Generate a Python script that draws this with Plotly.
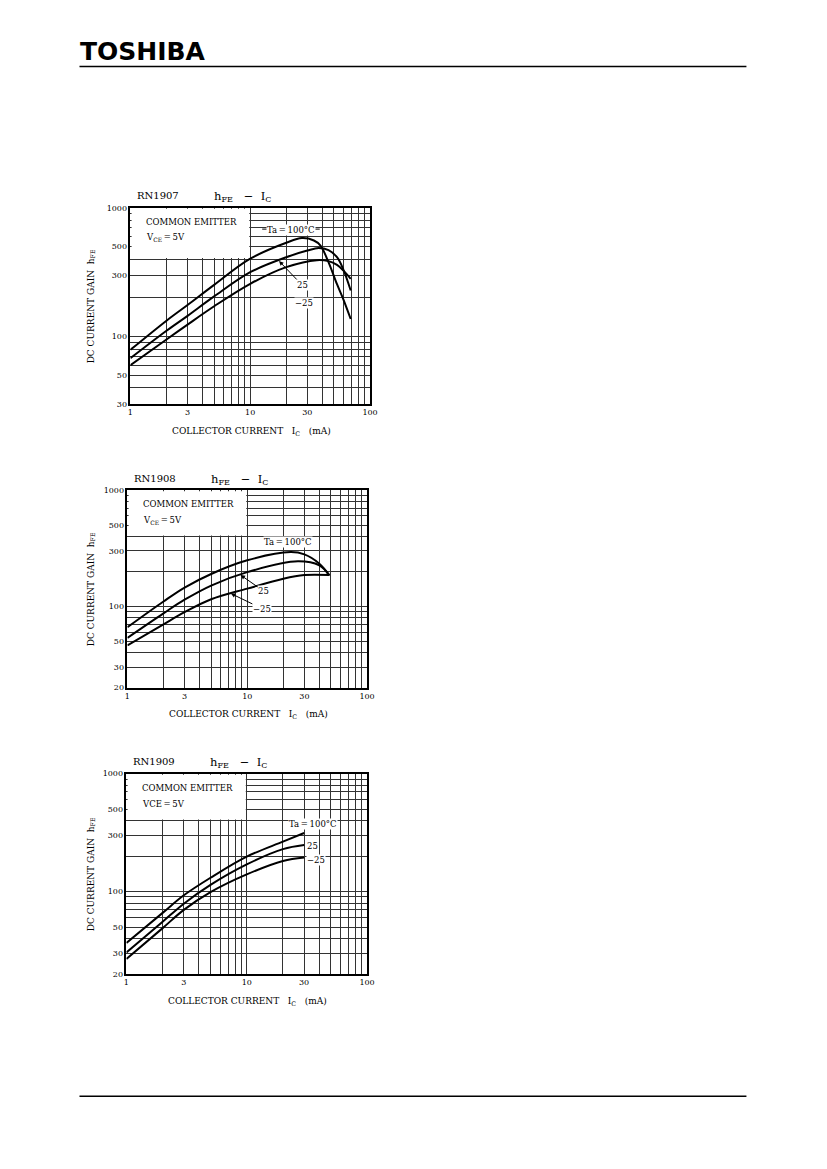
import numpy as np
import plotly.graph_objects as go

# page is 827x1169; the html body adds an 8px margin, so the figure is drawn
# 8px in and is made smaller so that it does not overflow the window.
# The photographed page also comes out slightly shrunk, so positions are
# pre-stretched by that measured amount.
PAGE_OFF = 8
FW, FH = 811, 1153
SX, BX = 0.988, 3.5
SY, BY = 0.9905, 4.7

# RN1907  hFE - IC  (IC in mA)
ic1_100 = [1, 2, 3, 5, 10, 20, 27, 34, 38.6, 45, 53, 60, 69]
hfe1_100 = [79, 133, 176, 252, 402, 535, 581, 557, 509, 378, 255, 194, 137]
ic1_25 = [1, 2, 3, 5, 10, 20, 30, 37.3, 45, 53, 60, 69]
hfe1_25 = [68, 111, 145, 205, 316, 413, 465, 486, 468, 413, 330, 228]
ic1_m25 = [1, 2, 3, 5, 10, 20, 36, 45, 53, 60, 69]
hfe1_m25 = [60, 95, 124, 172, 257, 346, 392, 385, 360, 325, 281]

# RN1908
ic2_100 = [1, 2, 3, 5, 10, 23, 30, 40, 48.5]
hfe2_100 = [66, 110, 145, 190, 249, 293, 280, 233, 185]
ic2_25 = [1, 2, 3, 5, 10, 26.5, 40, 48.5]
hfe2_25 = [53.5, 87, 114, 151, 197, 244, 225, 185]
ic2_m25 = [1, 2, 3, 5, 10, 20, 30, 48.5]
hfe2_m25 = [46, 70, 89, 115, 142, 173, 186, 186]

# RN1909
ic3 = [1, 2, 3, 5, 10, 20, 30]
hfe3_100 = [36.7, 66, 93, 131, 198, 265, 314]
hfe3_25 = [30.5, 55.5, 79, 114, 170, 229, 248]
hfe3_m25 = [26.8, 49, 70, 99, 140, 182, 195]

x_grid = [1, 2, 3, 4, 5, 6, 7, 8, 9, 10, 20, 30, 40, 50, 60, 70, 80, 90, 100]
x_labels = ["1", "", "3", "", "", "", "", "", "", "10", "", "30", "", "", "", "", "", "", "100"]
y_grid = [20, 30, 40, 50, 60, 70, 80, 90, 100, 200, 300, 400, 500, 600, 700, 800, 900, 1000]
y_shown = {20: "20", 30: "30", 50: "50", 100: "100", 300: "300", 500: "500", 1000: "1000"}

panels = [
    dict(name="RN1907", px=(131, 371), py=(208, 404), ymin=30,
         curves=[(ic1_100, hfe1_100), (ic1_25, hfe1_25), (ic1_m25, hfe1_m25)],
         vce="V<sub>CE</sub>\u2009=\u20095V"),
    dict(name="RN1908", px=(128, 368), py=(490, 687), ymin=20,
         curves=[(ic2_100, hfe2_100), (ic2_25, hfe2_25), (ic2_m25, hfe2_m25)],
         vce="V<sub>CE</sub>\u2009=\u20095V"),
    dict(name="RN1909", px=(127, 368), py=(773, 973), ymin=20,
         curves=[(ic3, hfe3_100), (ic3, hfe3_25), (ic3, hfe3_m25)],
         vce="VCE\u2009=\u20095V"),
]

SERIF = "DejaVu Serif"
fig = go.Figure()
annotations = []
shapes = []


def px2x(p):
    return ((p - BX) / SX - PAGE_OFF) / FW


def py2y(p):
    return 1 - ((p - BY) / SY - PAGE_OFF) / FH


def note(text, x, y, size=9, xanchor="center", **kw):
    return dict(text=text, x=px2x(x), y=py2y(y), xref="paper", yref="paper",
                xanchor=xanchor, yanchor="middle", showarrow=False,
                font=dict(family=SERIF, size=size, color="black"), **kw)


for i, p in enumerate(panels):
    n = "" if i == 0 else str(i + 1)
    xa, ya = "x" + n, "y" + n
    yv = [v for v in y_grid if v >= p["ymin"]]
    yt = [y_shown.get(v, "") for v in yv]
    axis_common = dict(
        type="log", showgrid=True, gridcolor="#333333", gridwidth=1,
        showline=True, linecolor="black", linewidth=1.6, mirror=True,
        ticks="", zeroline=False,
        tickfont=dict(family=SERIF, size=8, color="black"),
    )
    fig.update_layout(**{
        ("xaxis" + n): dict(axis_common, domain=[px2x(p["px"][0]), px2x(p["px"][1])],
                            range=[0, 2], tickvals=x_grid, ticktext=x_labels,
                            anchor=ya),
        ("yaxis" + n): dict(axis_common, domain=[py2y(p["py"][1]), py2y(p["py"][0])],
                            range=[np.log10(p["ymin"]), 3], tickvals=yv, ticktext=yt,
                            anchor=xa),
    })
    for cx, cy in p["curves"]:
        fig.add_trace(go.Scatter(x=cx, y=cy, xaxis=xa, yaxis=ya, mode="lines",
                                 line=dict(color="black", width=2, shape="spline",
                                           smoothing=1.0),
                                 showlegend=False, hoverinfo="skip"))

    # white condition box over the grid in the upper-left corner (1..10 mA, 400..1000)
    frac = (np.log10(400) - np.log10(p["ymin"])) / (3 - np.log10(p["ymin"]))
    shapes.append(dict(type="rect", xref=xa + " domain", yref=ya + " domain",
                       x0=0.005, x1=0.496, y0=frac + 0.005, y1=0.995,
                       fillcolor="white", line=dict(width=0), layer="above"))

    cx_mid = (p["px"][0] + p["px"][1]) / 2
    cy_mid = (p["py"][0] + p["py"][1]) / 2
    annotations += [
        note(p["name"], p["px"][0] + 5, p["py"][0] - 12, size=10, xanchor="left"),
        note("h<sub>FE</sub>   −  I<sub>C</sub>", p["px"][0] + 82, p["py"][0] - 11,
             size=11.5, xanchor="left"),
        note("COMMON EMITTER", p["px"][0] + 14, p["py"][0] + 14, size=8.5, xanchor="left"),
        note(p["vce"], p["px"][0] + 14, p["py"][0] + 30, size=8.5, xanchor="left"),
        note("DC CURRENT GAIN  h<sub>FE</sub>", 92, cy_mid, size=9, textangle=-90),
        note("COLLECTOR CURRENT   I<sub>C</sub>   (mA)", cx_mid + 1, p["py"][1] + 27,
             size=9),
    ]

lab = dict(family=SERIF, size=8.5, color="black")
TA = "Ta\u2009=\u2009100°C"


def label(text, ic, hfe, ax, ay, xa="x", ya="y", **kw):
    d = dict(text=text, x=np.log10(ic), y=np.log10(hfe), xref=xa, yref=ya,
             bgcolor="white", font=lab, borderpad=0)
    if ax is None:
        d.update(showarrow=False, yanchor="middle")
        d.setdefault("xanchor", "center")
    else:
        d.update(ax=ax, ay=ay, showarrow=True, arrowhead=2, arrowsize=0.9,
                 arrowwidth=1, arrowcolor="black")
    d.update(kw)
    return d


# RN1907 labels
shapes.append(dict(type="line", xref="x domain", yref="y domain", x0=0.55, x1=0.79,
                   y0=0.891, y1=0.891, line=dict(color="black", width=1),
                   layer="above"))
annotations += [
    label(TA, 21.8, 674, None, None),
    label("25", 17.4, 386, 23, 24),
    label("−25", 15.2, 300, 32, 28),
]

# RN1908 labels
annotations += [
    label(TA, 21.7, 358, None, None, "x2", "y2"),
    label("25", 8.8, 186, 23, 16, "x2", "y2"),
    label("−25", 7.3, 129, 31, 15, "x2", "y2"),
]

# RN1909 labels
annotations += [
    label(TA, 35.6, 375, None, None, "x3", "y3"),
    label("25", 30.9, 245, None, None, "x3", "y3", xanchor="left"),
    label("−25", 30.9, 186, None, None, "x3", "y3", xanchor="left"),
]

# page header / footer
annotations.append(dict(text="<b>TOSHIBA</b>", x=px2x(79), y=py2y(52), xref="paper",
                        yref="paper", xanchor="left", yanchor="middle", showarrow=False,
                        font=dict(family="DejaVu Sans", size=25, color="black")))
for yy in (67, 1095):
    shapes.append(dict(type="line", xref="paper", yref="paper", x0=px2x(80), x1=px2x(748),
                       y0=py2y(yy), y1=py2y(yy), line=dict(color="black", width=1.5)))

fig.update_layout(width=FW, height=FH, margin=dict(l=0, r=0, t=0, b=0),
                  paper_bgcolor="white", plot_bgcolor="white",
                  annotations=annotations, shapes=shapes, showlegend=False)

fig.write_html("out.html")
